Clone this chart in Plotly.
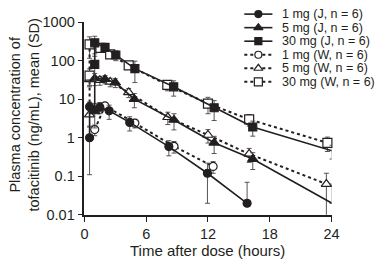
import plotly.graph_objects as go

# ---------------- data ----------------
# Japanese subjects (J), filled markers, solid lines
t_j1 = [0.5, 0.5, 1.5, 2.4, 4.4, 8.2, 11.95, 15.8]
c_j1 = [1.0, 6.4, 6.2, 5.0, 2.5, 0.59, 0.12, 0.02]
sd_j1 = [0.89, 2.0, 2.0, 2.0, 1.0, 0.25, 0.10, 0.05]

t_j5 = [1.0, 1.0, 2.0, 3.0, 4.85, 8.7, 12.6, 16.35, 24.05]
c_j5 = [4.8, 34.5, 33.0, 27.0, 10.0, 2.9, 0.74, 0.28, 0.020]
sd_j5 = [3.0, 12.0, 8.0, 7.0, 4.0, 1.3, 0.35, 0.13, 0.043]

t_j30 = [1.0, 1.0, 2.0, 3.05, 4.9, 8.67, 12.6, 16.35, 24.05]
c_j30 = [80.0, 290.0, 220.0, 140.0, 62.0, 21.0, 6.0, 1.9, 0.46]
sd_j30 = [50.0, 140.0, 40.0, 40.0, 35.0, 9.0, 3.2, 0.8, 0.18]

# Western subjects (W), open markers, dotted lines
t_w1 = [1.0, 2.0, 4.9, 8.7, 12.5]
c_w1 = [1.63, 6.7, 2.4, 0.60, 0.18]
sd_w1 = [0.5, 1.5, 0.6, 0.2, 0.06]

t_w5 = [0.5, 0.5, 1.5, 2.5, 4.3, 8.1, 12.0, 16.0, 23.5]
c_w5 = [4.0, 32.6, 31.0, 28.0, 15.0, 3.4, 1.18, 0.38, 0.063]
sd_w5 = [2.0, 10.0, 8.0, 7.0, 4.0, 1.2, 0.45, 0.15, 0.057]

t_w30 = [0.5, 0.5, 1.55, 2.5, 4.3, 8.05, 12.0, 16.0, 23.6]
c_w30 = [41.0, 265.0, 215.0, 145.0, 75.0, 23.5, 7.7, 3.0, 0.74]
sd_w30 = [20.0, 150.0, 40.0, 30.0, 15.0, 7.0, 3.5, 1.0, 0.3]

series_names = ["1 mg (J, n = 6)", "5 mg (J, n = 6)", "30 mg (J, n = 6)",
                "1 mg (W, n = 6)", "5 mg (W, n = 6)", "30 mg (W, n = 6)"]

x_ticks = [0, 6, 12, 18, 24]
y_ticks = [0.01, 0.1, 1, 10, 100, 1000]
y_ticktext = ["0.01", "0.1", "1", "10", "100", "1000"]

# ---------------- styling ----------------
W, H = 387, 268
PL, PR, PT, PB = 83, 338, 15, 220      # plot-area edges in px
INK = "#231f20"
FONT = "Liberation Sans, Arial, Helvetica, sans-serif"

styles = [
    dict(sym="circle", fill=INK, dash="solid", size=8),
    dict(sym="triangle-up", fill=INK, dash="solid", size=9),
    dict(sym="square", fill=INK, dash="solid", size=8),
    dict(sym="circle", fill="white", dash="3px,3px", size=8),
    dict(sym="triangle-up", fill="white", dash="3px,3px", size=9),
    dict(sym="square", fill="white", dash="3px,3px", size=9),
]
data = [(t_j1, c_j1, sd_j1), (t_j5, c_j5, sd_j5), (t_j30, c_j30, sd_j30),
        (t_w1, c_w1, sd_w1), (t_w5, c_w5, sd_w5), (t_w30, c_w30, sd_w30)]

fig = go.Figure()

# draw W (dotted) first, then J on top
order = [3, 4, 5, 0, 1, 2]
for i in order:
    t, c, sd = data[i]
    st = styles[i]
    sd_minus = [s if s < v else 0 for s, v in zip(sd, c)]
    fig.add_trace(go.Scatter(
        x=t, y=c, mode="lines+markers", name=series_names[i],
        line=dict(color=INK, width=1.6 if st["dash"] == "solid" else 2.0, dash=st["dash"]),
        marker=dict(symbol=st["sym"], size=st["size"], color=st["fill"],
                    line=dict(color=INK, width=1.2)),
        error_y=dict(type="data", array=sd, arrayminus=sd_minus, symmetric=False,
                     color="#444", thickness=0.9, width=2.5),
        cliponaxis=False, showlegend=False, xaxis="x", yaxis="y",
    ))

# ---------------- custom legend (overlay axis in pixel units) ----------------
LEG_X0, LEG_X1, LEG_TX = 248, 277, 286
LEG_Y0, LEG_DY = 6.5, 14.4
annotations = []
for k, name in enumerate(series_names):
    st = styles[k]
    yrow = LEG_Y0 + k * LEG_DY
    fig.add_trace(go.Scatter(
        x=[LEG_X0, LEG_X1], y=[yrow, yrow], mode="lines",
        line=dict(color=INK, width=1.6 if st["dash"] == "solid" else 2.0, dash=st["dash"]),
        showlegend=False, hoverinfo="skip", xaxis="x2", yaxis="y2", cliponaxis=False))
    fig.add_trace(go.Scatter(
        x=[(LEG_X0 + LEG_X1) / 2], y=[yrow], mode="markers",
        marker=dict(symbol=st["sym"], size=st["size"] - 1, color=st["fill"],
                    line=dict(color=INK, width=1.2)),
        showlegend=False, hoverinfo="skip", xaxis="x2", yaxis="y2", cliponaxis=False))
    annotations.append(dict(x=LEG_TX, y=yrow, xref="x2", yref="y2", text=name,
                            showarrow=False, xanchor="left", yanchor="middle",
                            borderpad=0, height=14, valign="middle",
                            font=dict(size=12.5, color=INK, family=FONT)))

# axis titles
annotations.append(dict(x=210 / W, y=1 - 258 / H, xref="paper", yref="paper",
                        text="Time after dose (hours)", showarrow=False,
                        xanchor="center", yanchor="middle",
                        font=dict(size=15, color=INK, family=FONT)))
annotations.append(dict(x=21 / W, y=1 - 114 / H, xref="paper", yref="paper",
                        text="Plasma concentration of<br>tofacitinib (ng/mL), mean (SD)",
                        showarrow=False, textangle=-90,
                        xanchor="center", yanchor="middle",
                        font=dict(size=14.5, color=INK, family=FONT)))

fig.update_layout(
    width=W, height=H,
    margin=dict(l=0, r=0, t=0, b=0),
    paper_bgcolor="white", plot_bgcolor="rgba(0,0,0,0)",
    font=dict(family=FONT, color=INK, size=14),
    showlegend=False,
    xaxis=dict(domain=[PL / W, PR / W], range=[0, 24], tickvals=x_ticks,
               ticks="outside", ticklen=5, tickwidth=1.3, tickcolor=INK,
               showline=True, linecolor=INK, linewidth=1.5,
               showgrid=False, zeroline=False, anchor="y",
               tickfont=dict(size=14.5, color=INK)),
    yaxis=dict(type="log", domain=[(H - PB) / H, (H - PT) / H], range=[-2, 3],
               tickvals=y_ticks, ticktext=y_ticktext,
               ticks="outside", ticklen=5, tickwidth=1.3, tickcolor=INK,
               showline=True, linecolor=INK, linewidth=1.5,
               showgrid=False, zeroline=False, anchor="x",
               tickfont=dict(size=14.5, color=INK)),
    xaxis2=dict(domain=[0, 1], range=[0, W], visible=False, anchor="y2", fixedrange=True),
    yaxis2=dict(domain=[0, 1], range=[H, 0], visible=False, anchor="x2", fixedrange=True),
    annotations=annotations,
)

fig.write_html("out.html", config={"displayModeBar": False},
               post_script="document.body.style.margin='0';document.body.style.overflow='hidden';")
